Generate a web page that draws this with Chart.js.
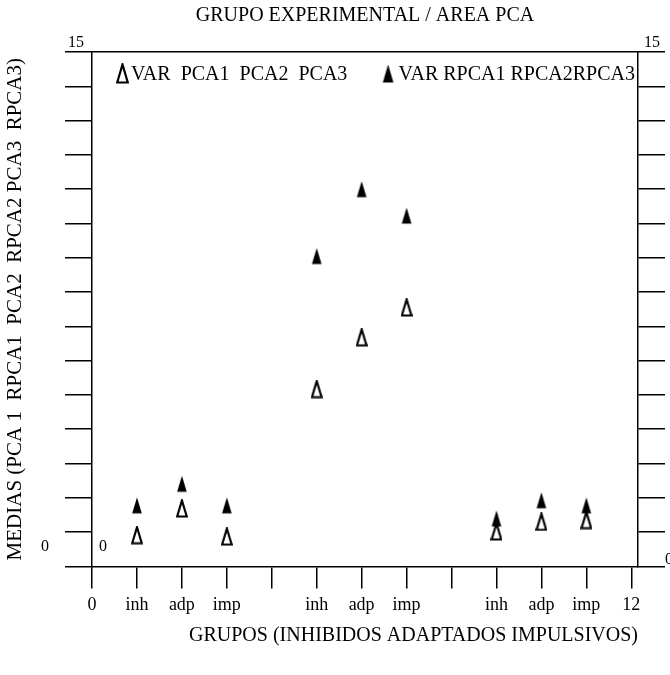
<!DOCTYPE html>
<html>
<head>
<meta charset="utf-8">
<script src="https://cdn.jsdelivr.net/npm/chart.js@4.4.0/dist/chart.umd.min.js"></script>
<style>
  body { margin: 0; background: #fff; }
</style>
</head>
<body>
<canvas id="scatter-chart" width="670" height="675"></canvas>
<script>
const scatterChart = document.getElementById("scatter-chart");

// group positions on the x axis (inh adp imp, three times)
const groupX = [1, 2, 3, 5, 6, 7, 9, 10, 11];
const xTickLabels = ["0", "inh", "adp", "imp", "", "inh", "adp", "imp", "", "inh", "adp", "imp", "12"];
// medias
const pcaValues = [0.91, 1.69, 0.87, 5.17, 6.68, 7.55, 1.02, 1.30, 1.35];
const rpcaValues = [1.78, 2.41, 1.78, 9.05, 11.0, 10.23, 1.40, 1.93, 1.78];
const seriesLabels = ["VAR  PCA1  PCA2  PCA3", "VAR RPCA1 RPCA2RPCA3"];

const black = "#000";
const serif = "'Liberation Serif'";

// narrow triangles like the original marks
function makeTriangle(filled, w, h) {
  const c = document.createElement("canvas");
  c.width = w;
  c.height = h;
  const ctx = c.getContext("2d");
  ctx.beginPath();
  ctx.moveTo(w / 2, 1.5);
  ctx.lineTo(w - 1.2, h - 1.5);
  ctx.lineTo(1.2, h - 1.5);
  ctx.closePath();
  if (filled) {
    ctx.fillStyle = black;
    ctx.fill();
  } else {
    ctx.lineWidth = 2.2;
    ctx.strokeStyle = black;
    ctx.stroke();
  }
  return c;
}
const openTri = makeTriangle(false, 12, 19);
const filledTri = makeTriangle(true, 12, 19);
const openTriBig = makeTriangle(false, 13, 21);
const filledTriBig = makeTriangle(true, 13, 21);

// legend row inside the frame + the lone 0 / 15 labels
const extras = {
  id: "extras",
  afterDraw(chart) {
    const ctx = chart.ctx;
    const y = chart.scales.y;
    const x = chart.scales.x;
    const area = chart.chartArea;
    const top = y.getPixelForValue(15);
    const bottom = y.getPixelForValue(0);
    ctx.save();
    ctx.fillStyle = black;

    // legend
    const ly = area.top + 22;
    ctx.font = "20px " + serif;
    ctx.textBaseline = "middle";
    ctx.textAlign = "left";
    ctx.drawImage(openTriBig, 116, ly - 11);
    ctx.fillText(seriesLabels[0], 131, ly + 1);
    const w2 = ctx.measureText(seriesLabels[1]).width;
    const x2 = area.right - 3 - w2;
    ctx.drawImage(filledTriBig, x2 - 17, ly - 11);
    ctx.fillText(seriesLabels[1], x2, ly + 1);

    // corner numbers
    ctx.font = "16px " + serif;
    ctx.textBaseline = "alphabetic";
    ctx.textAlign = "center";
    ctx.fillText("15", 76, top - 5);
    ctx.fillText("15", 652, top - 5);
    ctx.fillText("0", 45, bottom - 15);
    ctx.fillText("0", x.getPixelForValue(0) + 11, bottom - 15);
    ctx.textAlign = "left";
    ctx.fillText("0", 665, bottom - 2);
    ctx.restore();
  },
};

new Chart(scatterChart, {
  type: "scatter",
  data: {
    datasets: [
      {
        label: seriesLabels[0],
        data: groupX.map((x, i) => ({ x: x, y: pcaValues[i] })),
        pointStyle: openTri,
        order: 1,
      },
      {
        label: seriesLabels[1],
        data: groupX.map((x, i) => ({ x: x, y: rpcaValues[i] })),
        pointStyle: filledTri,
        order: 0,
      },
    ],
  },
  options: {
    responsive: false,
    animation: false,
    layout: { padding: { top: 0, right: 5, left: 0, bottom: 0 } },
    scales: {
      x: {
        type: "linear",
        position: "bottom",
        min: 0,
        max: 12.15,
        afterBuildTicks: (s) => {
          s.ticks = xTickLabels.map((_, i) => ({ value: i }));
        },
        ticks: {
          color: black,
          padding: 6,
          maxRotation: 0,
          autoSkip: false,
          font: { family: serif, size: 18 },
          callback: (v) => xTickLabels[v],
        },
        grid: { drawOnChartArea: false, drawTicks: true, tickLength: 22, color: black, lineWidth: 1.5 },
        border: { color: black, width: 1.5 },
        title: {
          display: true,
          text: "GRUPOS (INHIBIDOS ADAPTADOS IMPULSIVOS)",
          align: "end",
          color: black,
          font: { family: serif, size: 20 },
          padding: { top: 2, bottom: 27 },
        },
      },
      xTop: {
        type: "linear",
        position: "top",
        min: 0,
        max: 12.15,
        ticks: { display: false },
        grid: { drawOnChartArea: false, drawTicks: false },
        border: { color: black, width: 1.5 },
        title: {
          display: true,
          text: "GRUPO EXPERIMENTAL / AREA PCA",
          color: black,
          font: { family: serif, size: 20 },
          padding: { top: 4, bottom: 24 },
        },
      },
      y: {
        position: "left",
        min: 0,
        max: 15,
        ticks: { display: false, stepSize: 1 },
        grid: { drawOnChartArea: false, drawTicks: true, tickLength: 27, color: black, lineWidth: 1.5 },
        border: { color: black, width: 1.5 },
        title: {
          display: true,
          text: "MEDIAS (PCA 1  RPCA1  PCA2  RPCA2 PCA3  RPCA3)",
          color: black,
          font: { family: serif, size: 21 },
          padding: { top: 3, bottom: 36.8 },
        },
      },
      y2: {
        position: "right",
        min: 0,
        max: 15,
        ticks: { display: false, stepSize: 1 },
        grid: { drawOnChartArea: false, drawTicks: true, tickLength: 27, color: black, lineWidth: 1.5 },
        border: { color: black, width: 1.5 },
      },
    },
    plugins: {
      title: { display: false },
      legend: { display: false },
      tooltip: { enabled: false },
    },
  },
  plugins: [extras],
});
</script>
</body>
</html>
